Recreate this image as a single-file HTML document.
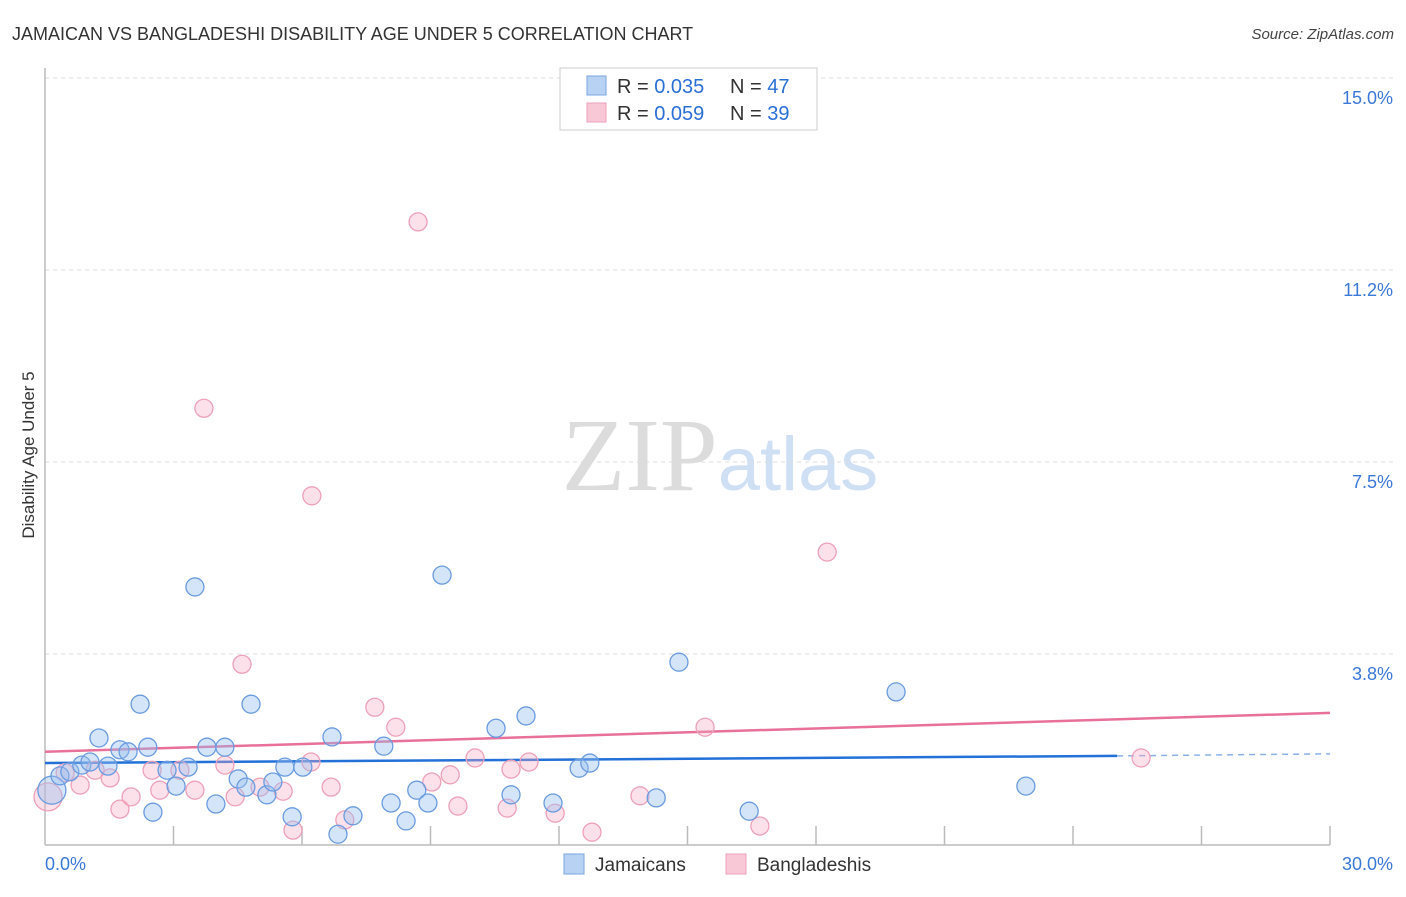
<!DOCTYPE html>
<html><head><meta charset="utf-8"><style>
body{margin:0;background:#fff;font-family:"Liberation Sans",sans-serif;}
svg text{font-family:"Liberation Sans",sans-serif;}
</style></head><body>
<svg id="chart" width="1406" height="892" xmlns="http://www.w3.org/2000/svg">
<text x="12" y="40" font-size="18" fill="#333">JAMAICAN VS BANGLADESHI DISABILITY AGE UNDER 5 CORRELATION CHART</text>
<text x="1394" y="39" font-size="15" fill="#444" text-anchor="end" font-style="italic">Source: ZipAtlas.com</text>
<text x="720" y="490" font-size="104" text-anchor="middle"><tspan fill="#dcdcdc" font-family="Liberation Serif">ZIP</tspan><tspan fill="#cfe0f5" font-size="76">atlas</tspan></text>
<g id="grid"></g>
<g id="axes"></g>
<text transform="translate(34,455) rotate(-90)" font-size="17" fill="#333" text-anchor="middle">Disability Age Under 5</text>
<g id="lines"></g>
<g id="points"></g>
<g>
<rect x="560" y="68" width="257" height="62" fill="#fff" stroke="#ccc"/>
<rect x="587" y="76" width="19" height="19" fill="#b8d2f4" stroke="#7aa6e2"/>
<text x="617" y="93" font-size="20" fill="#333">R = <tspan fill="#2a6fd6">0.035</tspan></text>
<text x="730" y="93" font-size="20" fill="#333">N = <tspan fill="#2a6fd6">47</tspan></text>
<rect x="587" y="103" width="19" height="19" fill="#f8c8d6" stroke="#ee9fb8"/>
<text x="617" y="120" font-size="20" fill="#333">R = <tspan fill="#2a6fd6">0.059</tspan></text>
<text x="730" y="120" font-size="20" fill="#333">N = <tspan fill="#2a6fd6">39</tspan></text>
</g>
<g>
<rect x="564" y="854" width="20" height="20" fill="#b8d2f4" stroke="#7aa6e2"/>
<text x="595" y="871" font-size="19" fill="#333">Jamaicans</text>
<rect x="726" y="854" width="20" height="20" fill="#f8c8d6" stroke="#ee9fb8"/>
<text x="757" y="871" font-size="19" fill="#333">Bangladeshis</text>
</g>
</svg>
<script>
const yTicks=[3.75,7.5,11.25,15];
const yTickLabels=["3.8%","7.5%","11.2%","15.0%"];
const xTickVals=[3,6,9,12,15,18,21,24,27,30];
const jamX=[0.16,0.35,0.58,0.86,1.05,1.47,1.26,1.75,1.94,2.22,2.40,2.52,2.85,3.06,3.34,3.50,3.78,3.99,4.20,4.51,4.69,4.81,5.18,5.32,5.60,5.77,6.02,6.70,6.84,7.19,7.91,8.08,8.43,8.68,8.94,9.27,10.53,10.88,11.23,11.86,12.47,12.72,14.27,14.80,16.44,19.87,22.90];
const jamY=[1.09,1.37,1.45,1.58,1.64,1.56,2.11,1.88,1.84,2.77,1.93,0.66,1.48,1.17,1.54,5.06,1.93,0.82,1.93,1.31,1.15,2.77,1.00,1.25,1.54,0.57,1.54,2.13,0.23,0.59,1.95,0.84,0.49,1.09,0.84,5.29,2.30,1.00,2.54,0.84,1.52,1.62,0.94,3.59,0.68,3.01,1.17];
const banX=[0.07,0.47,0.82,1.17,1.52,1.75,2.01,2.50,2.68,3.15,3.50,3.71,4.20,4.44,4.60,5.02,5.56,5.79,6.23,6.21,6.68,7.00,7.70,8.19,8.71,9.03,9.46,9.64,10.04,10.79,10.88,11.30,11.91,12.77,13.89,15.41,16.69,18.26,25.59];
const banY=[0.96,1.43,1.19,1.48,1.33,0.72,0.96,1.48,1.09,1.48,1.09,8.55,1.58,0.96,3.55,1.15,1.07,0.31,6.84,1.64,1.15,0.51,2.71,2.32,12.19,1.25,1.39,0.78,1.72,0.74,1.50,1.64,0.64,0.27,0.98,2.32,0.39,5.74,1.72];
const jamLine=[[0,1.62],[25.03,1.76]];
const jamDash=[[25.03,1.76],[30,1.80]];
const banLine=[[0,1.84],[30,2.60]];
const X=v=>45+v/30*1285;
const Y=v=>846-v/3.75*192;
const NS="http://www.w3.org/2000/svg";
function mk(tag,attrs,parent){const e=document.createElementNS(NS,tag);for(const k in attrs)e.setAttribute(k,attrs[k]);parent.appendChild(e);return e;}
const grid=document.getElementById('grid'),axes=document.getElementById('axes'),lines=document.getElementById('lines'),pts=document.getElementById('points');
yTicks.forEach((t,i)=>{
 const l=mk('line',{x1:45,x2:1395,y1:Y(t),y2:Y(t),stroke:'#ddd','stroke-dasharray':'4,4'},grid);
 
 
 const tx=mk('text',{x:1393,y:Y(t)+26,'font-size':18,fill:'#3a78d8','text-anchor':'end'},grid);
 tx.textContent=yTickLabels[i];
 
 
});
const ax=mk('line',{x1:45,x2:1330,y1:845,y2:845,stroke:'#bbb','stroke-width':1.5},axes);


const ay=mk('line',{x1:45,x2:45,y1:68,y2:845,stroke:'#bbb','stroke-width':1.5},axes);


xTickVals.forEach(v=>{
 const t=mk('line',{x1:X(v),x2:X(v),y1:826,y2:845,stroke:'#bbb','stroke-width':1.5},axes);
 
 
});
const xl0=mk('text',{x:45,y:870,'font-size':18,fill:'#3a78d8'},axes);xl0.textContent='0.0%';


const xl1=mk('text',{x:1393,y:870,'font-size':18,fill:'#3a78d8','text-anchor':'end'},axes);xl1.textContent='30.0%';


function seg(p,attrs,name){const l=mk('line',Object.assign({x1:X(p[0][0]),y1:Y(p[0][1]),x2:X(p[1][0]),y2:Y(p[1][1])},attrs),lines);
 
 }
function dots(xs,ys,fill,stroke,name){xs.forEach((x,i)=>{const c=mk('circle',{cx:X(x),cy:Y(ys[i]),r:i===0?14:9,fill:fill,stroke:stroke,'stroke-width':1.3},pts);
 
 });}
dots(banX,banY,'rgba(245,170,195,0.35)','#eea0b8','bangladeshi-point');
dots(jamX,jamY,'rgba(150,190,240,0.4)','#6a9be0','jamaican-point');
seg(banLine,{stroke:'#e8709a','stroke-width':2.5},'bangladeshi-trendline');
seg(jamLine,{stroke:'#2270d8','stroke-width':2.5},'jamaican-trendline');
seg(jamDash,{stroke:'#8ab0e6','stroke-width':1.5,'stroke-dasharray':'6,5'},'jamaican-trendline-extension');
</script>
</body></html>
